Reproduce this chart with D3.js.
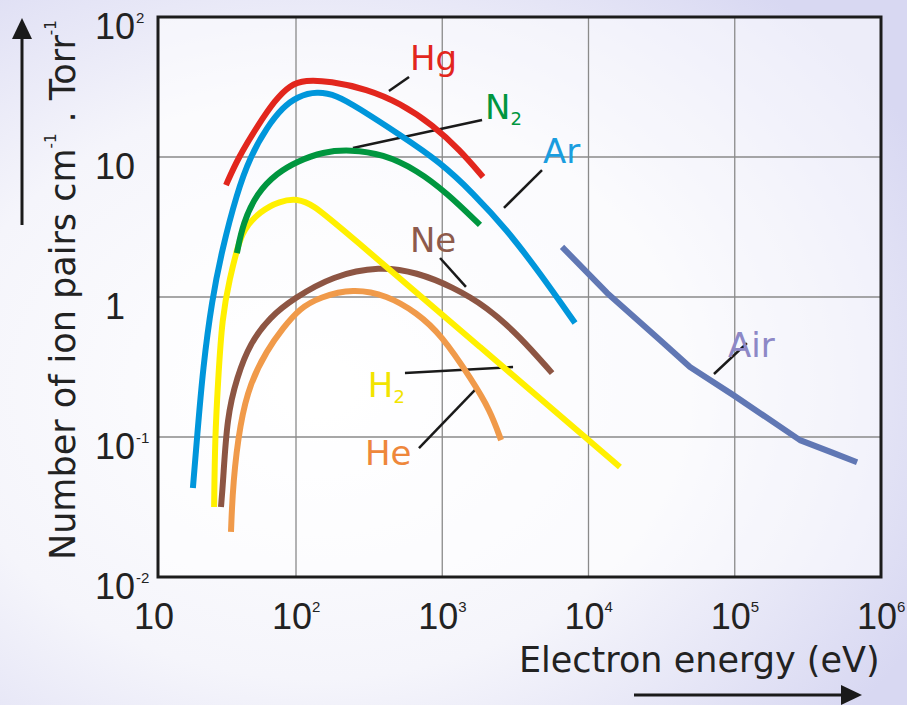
<!DOCTYPE html>
<html>
<head>
<meta charset="utf-8">
<script src="https://cdn.jsdelivr.net/npm/d3@7"></script>
<style>
  body { margin: 0; }
  svg { display: block; }
</style>
</head>
<body>
<div id="main"></div>
<script>
// energy (eV), ion pairs per cm per Torr
const hgData = [[31.1, 6.3], [38, 9.84], [53.1, 16.9], [70.5, 25.5], [90.6, 32.7], [115, 35.5], [171, 34.8],
    [305, 30.6], [514, 24.3], [865, 16.9], [1321, 11.2], [1901, 7.2]];
const arData = [[17.9, 0.0433], [19.2, 0.1], [21.2, 0.316], [24.6, 0.953], [29.1, 2.17], [37.3, 5.53], [46.5, 10],
    [61.7, 16.4], [80.5, 22.7], [102, 27], [139, 29.5], [191, 27.5], [261, 22.7], [514, 14.4], [966, 9.2],
    [1622, 5.53], [2773, 3.01], [4656, 1.48], [8091, 0.652]];
const n2Data = [[37.3, 2.06], [41.3, 3.38], [52.1, 5.53], [72.8, 7.69], [102, 9.3], [153, 10.9], [234, 11.3],
    [393, 10.5], [671, 8.07], [1077, 5.53], [1811, 3.27]];
const h2Data = [[25.5, 0.0316], [25.9, 0.1], [27.2, 0.243], [29.1, 0.72], [33.3, 1.39], [37.3, 2.17], [41.3, 3.01],
    [54.8, 4.1], [76.5, 4.85], [102, 5.05], [131, 4.55], [200, 3.16], [1811, 0.44], [16400, 0.061]];
const neData = [[28.6, 0.0316], [29.6, 0.047], [31.6, 0.139], [37.3, 0.268], [46.5, 0.469], [64.9, 0.72], [95.1, 0.97],
    [179, 1.42], [375, 1.66], [671, 1.5], [1183, 1.18], [2022, 0.85], [3404, 0.52], [5636, 0.286]];
const heData = [[33.8, 0.021], [34.9, 0.047], [39.3, 0.126], [46.5, 0.243], [61.7, 0.418], [80.5, 0.6], [106, 0.83],
    [146, 1.0], [245, 1.15], [419, 1.03], [671, 0.77], [980, 0.54], [1596, 0.255], [2118, 0.156], [2524, 0.095]];
const airData = [[6592, 2.28], [13400, 1.07], [30800, 0.493], [49400, 0.316], [97300, 0.2], [279000, 0.095],
    [470000, 0.077], [686000, 0.066]];

const xTicks = [10, 1e2, 1e3, 1e4, 1e5, 1e6];
const yTicks = [0.01, 0.1, 1, 10, 100];

// gas name, text anchor, leader line start / end (all in data units)
const labelNames = ["Hg", "N2", "Ar", "Ne", "H2", "He", "Air"];
const labelAt = [[601, 41.8], [1959, 18.7], [4887, 9.06], [601, 2.1], [310, 0.193], [296, 0.063], [90000, 0.373]];
const leaderFrom = [[432, 29.6], [245, 11.6], [2642, 4.33], [966, 1.9], [556, 0.286], [693, 0.0834], [72100, 0.282]];
const leaderTo = [[593, 37.3], [1871, 18.4], [4808, 8.07], [1452, 1.18], [3048, 0.316], [1754, 0.228], [121000, 0.469]];

const W = 907, H = 705;
const font = "DejaVu Sans";
const tickFont = "Liberation Sans";

const colors = {
    Hg: "#e2261d", Ar: "#0096db", N2: "#00963f", H2: "#fff000",
    Ne: "#8d5543", He: "#f09a4a", Air: "#6077b4"
};
const labelColors = {
    Hg: "#e2261d", Ar: "#1a9ddf", N2: "#00963f", H2: "#f2e400",
    Ne: "#8d5a4b", He: "#ee873b", Air: "#8d88c6"
};

const svg = d3.select("#main").append("svg")
    .attr("width", W)
    .attr("height", H);

// background wash
const defs = svg.append("defs");
const grad = defs.append("radialGradient")
    .attr("id", "bg")
    .attr("cx", "35%").attr("cy", "55%").attr("r", "75%");
grad.append("stop").attr("offset", "0%").attr("stop-color", "#ffffff");
grad.append("stop").attr("offset", "55%").attr("stop-color", "#f5f5fb");
grad.append("stop").attr("offset", "100%").attr("stop-color", "#d8d8f2");
svg.append("rect").attr("width", W).attr("height", H).attr("fill", "url(#bg)");

const x = d3.scaleLog().domain([10, 100, 1e6]).range([158, 296, 881]);
const y = d3.scaleLog().domain([0.01, 100]).range([577, 17]);

svg.append("rect")
    .attr("x", x(10)).attr("y", y(100))
    .attr("width", x(1e6) - x(10)).attr("height", y(0.01) - y(100))
    .attr("fill", "#ffffff").attr("fill-opacity", 0.55);

// grid
svg.append("g")
    .selectAll("line")
    .data(xTicks.slice(1, -1))
    .enter()
    .append("line")
    .attr("x1", d => x(d)).attr("x2", d => x(d))
    .attr("y1", y(100)).attr("y2", y(0.01))
    .attr("stroke", "#8a8a8a").attr("stroke-width", 1.3);
svg.append("g")
    .selectAll("line")
    .data(yTicks.slice(1, -1))
    .enter()
    .append("line")
    .attr("y1", d => y(d)).attr("y2", d => y(d))
    .attr("x1", x(10)).attr("x2", x(1e6))
    .attr("stroke", "#8a8a8a").attr("stroke-width", 1.3);

// leader lines sit under the curves
svg.append("g")
    .selectAll("line")
    .data(labelNames)
    .enter()
    .append("line")
    .attr("x1", (d, i) => x(leaderFrom[i][0])).attr("y1", (d, i) => y(leaderFrom[i][1]))
    .attr("x2", (d, i) => x(leaderTo[i][0])).attr("y2", (d, i) => y(leaderTo[i][1]))
    .attr("stroke", "#1a1a1a").attr("stroke-width", 2.5);

// curves
const smooth = d3.line()
    .curve(d3.curveBasis)
    .x(d => x(d[0]))
    .y(d => y(d[1]));
const straight = d3.line()
    .x(d => x(d[0]))
    .y(d => y(d[1]));

const series = [
    {name: "Ar", data: arData, line: smooth},
    {name: "Hg", data: hgData, line: smooth},
    {name: "Ne", data: neData, line: smooth},
    {name: "He", data: heData, line: smooth},
    {name: "H2", data: h2Data, line: smooth},
    {name: "N2", data: n2Data, line: smooth},
    {name: "Air", data: airData, line: straight},
];
svg.append("g")
    .selectAll("path")
    .data(series)
    .enter()
    .append("path")
    .attr("d", s => s.line(s.data))
    .attr("fill", "none")
    .attr("stroke", s => colors[s.name])
    .attr("stroke-width", 6)
    .attr("stroke-linejoin", "round");

// frame
svg.append("rect")
    .attr("x", x(10)).attr("y", y(100))
    .attr("width", x(1e6) - x(10)).attr("height", y(0.01) - y(100))
    .attr("fill", "none").attr("stroke", "#1c1c1c").attr("stroke-width", 3);

// curve labels
const labels = svg.append("g")
    .attr("font-family", font)
    .attr("font-size", 34);
labelNames.forEach((name, i) => {
    const t = labels.append("text")
        .attr("x", x(labelAt[i][0]))
        .attr("y", y(labelAt[i][1]))
        .attr("fill", labelColors[name]);
    if (name.endsWith("2")) {
        t.append("tspan").text(name[0]);
        t.append("tspan").attr("font-size", 18).attr("dy", 6).text("2");
    } else {
        t.text(name);
    }
});

// tick labels
const exp = v => Math.round(Math.log10(v));
const yLab = svg.append("g").attr("font-family", tickFont).attr("fill", "#222");
yTicks.forEach(v => {
    const e = exp(v);
    yLab.append("text")
        .attr("x", 115).attr("y", y(v) + 22)
        .attr("text-anchor", "middle").attr("font-size", 36)
        .text(e === 0 ? "1" : "10");
    if (e !== 0 && e !== 1) {
        yLab.append("text")
            .attr("x", 136).attr("y", y(v) + 6)
            .attr("font-size", 15)
            .text(e < 0 ? "-" + (-e) : e);
    }
});
const xLab = svg.append("g").attr("font-family", tickFont).attr("fill", "#222");
xTicks.forEach(v => {
    const e = exp(v);
    xLab.append("text")
        .attr("x", x(v) - 4).attr("y", 629)
        .attr("text-anchor", "middle").attr("font-size", 36)
        .text("10");
    if (e !== 1) {
        xLab.append("text")
            .attr("x", x(v) + 16).attr("y", 612)
            .attr("font-size", 15)
            .text(e);
    }
});

// axis titles
svg.append("text")
    .attr("x", 519).attr("y", 672)
    .attr("font-family", font).attr("font-size", 35).attr("fill", "#222")
    .text("Electron energy (eV)");

const yTitle = svg.append("text")
    .attr("transform", "translate(75,560) rotate(-90)")
    .attr("font-family", font).attr("font-size", 35).attr("fill", "#222");
yTitle.append("tspan").text("Number of ion pairs  cm");
yTitle.append("tspan").attr("font-size", 15).attr("dy", -19).text("-1");
yTitle.append("tspan").attr("dy", 19).text("  .  Torr");
yTitle.append("tspan").attr("font-size", 15).attr("dy", -19).text("-1");

// direction arrows
function arrow(x1, y1, x2, y2) {
    const a = Math.atan2(y2 - y1, x2 - x1), L = 21, w = 10;
    const bx = x2 - L * Math.cos(a), by = y2 - L * Math.sin(a);
    svg.append("line")
        .attr("x1", x1).attr("y1", y1).attr("x2", bx).attr("y2", by)
        .attr("stroke", "#1a1a1a").attr("stroke-width", 3);
    svg.append("path")
        .attr("d", `M${x2},${y2}L${bx - w * Math.sin(a)},${by + w * Math.cos(a)}L${bx + w * Math.sin(a)},${by - w * Math.cos(a)}Z`)
        .attr("fill", "#1a1a1a");
}
arrow(22, 225, 22, 18);
arrow(634, 695, 862, 695);
</script>
</body>
</html>
